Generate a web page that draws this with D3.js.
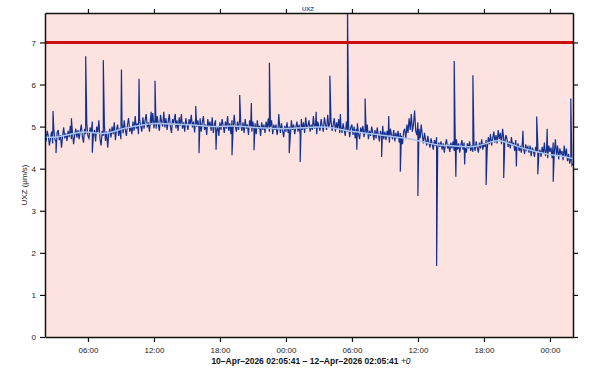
<!DOCTYPE html>
<html lang="en">
<head>
  <meta charset="UTF-8">
  <title>UXZ</title>
  <script src="https://d3js.org/d3.v7.min.js"></script>
  <style>
    body {margin: 0; padding: 0; background: #fff; font-family: "Liberation Sans", Arial, sans-serif;}
    svg {display: block;}
    .tick text {font-size: 8px; fill: #222;}
  </style>
</head>
<body>
  <div id="chart"></div>
  <script>
    // hours since 10-Apr-2026 02:05:41, 10 samples per hour (every 6 min)
    const baseValues = [
      4.82, 4.65, 4.90, 4.78, 4.55, 4.72, 4.88, 4.60, 4.95, 4.70,
      4.62, 4.85, 4.92, 4.68, 4.80, 4.50, 4.78, 4.98, 4.72, 4.84,
      4.66, 4.90, 4.75, 5.02, 4.70, 4.85, 4.58, 4.80, 4.95, 4.74,
      4.92, 4.70, 4.88, 5.05, 4.76, 4.62, 4.95, 4.82, 5.08, 4.78,
      4.72, 4.98, 4.85, 5.12, 4.80, 4.92, 4.65, 5.00, 4.86, 5.15,
      4.70, 4.55, 4.90, 4.78, 5.02, 4.66, 4.88, 4.50, 4.84, 4.95,
      4.74, 5.00, 4.82, 5.10, 4.68, 4.92, 5.05, 4.78, 4.96, 4.70,
      5.08, 4.84, 5.15, 4.92, 4.78, 5.05, 5.20, 4.88, 5.00, 4.82,
      5.12, 4.90, 5.25, 4.95, 5.08, 4.82, 5.18, 5.02, 4.88, 5.22,
      4.95, 5.15, 5.30, 4.98, 5.10, 4.88, 5.22, 5.05, 5.32, 4.96,
      5.18, 4.95, 5.25, 5.05, 4.90, 5.28, 5.10, 5.00, 5.35, 4.98,
      5.20, 4.92, 5.12, 5.30, 5.00, 4.85, 5.18, 5.08, 5.25, 4.96,
      5.15, 4.90, 5.22, 5.02, 5.30, 4.95, 5.10, 4.88, 5.20, 5.05,
      4.92, 5.18, 5.05, 5.28, 4.98, 5.12, 4.86, 5.22, 5.00, 5.15,
      4.95, 5.20, 4.88, 5.10, 5.25, 4.92, 5.05, 4.80, 5.18, 5.00,
      5.12, 4.90, 5.22, 4.85, 5.05, 5.15, 4.88, 5.00, 4.78, 5.10,
      4.92, 5.18, 5.02, 4.85, 5.12, 4.95, 5.25, 4.90, 5.08, 4.82,
      5.15, 4.95, 5.28, 5.00, 4.88, 5.12, 4.92, 5.20, 5.05, 4.90,
      5.10, 4.85, 5.18, 4.95, 5.05, 4.80, 5.15, 5.00, 4.88, 5.12,
      4.90, 5.08, 4.82, 5.15, 4.95, 5.02, 4.78, 5.10, 4.92, 5.05,
      4.85, 5.12, 4.95, 5.20, 4.88, 5.00, 5.15, 4.82, 5.05, 4.92,
      5.05, 4.80, 4.98, 5.12, 4.85, 5.08, 4.90, 4.75, 5.02, 4.88,
      5.10, 4.85, 5.00, 4.78, 5.15, 4.92, 5.05, 4.82, 4.98, 5.12,
      4.88, 5.05, 4.80, 5.18, 4.92, 5.10, 4.85, 5.22, 4.95, 5.02,
      5.15, 4.88, 5.05, 4.92, 5.25, 4.95, 5.08, 4.82, 5.12, 5.00,
      4.90, 5.18, 5.02, 4.88, 5.22, 5.05, 4.92, 5.28, 4.98, 5.10,
      5.15, 4.90, 5.05, 5.20, 4.88, 5.10, 4.95, 5.18, 4.85, 5.02,
      4.85, 5.08, 4.92, 4.78, 5.12, 4.88, 5.02, 4.75, 4.98, 5.05,
      4.80, 5.00, 4.72, 4.95, 5.08, 4.82, 4.70, 4.98, 4.85, 5.02,
      4.75, 4.95, 4.82, 5.05, 4.70, 4.90, 4.78, 5.00, 4.85, 4.68,
      4.92, 4.72, 4.98, 4.80, 4.65, 4.90, 4.78, 5.02, 4.70, 4.88,
      4.68, 4.90, 4.75, 4.62, 4.95, 4.80, 4.70, 4.92, 4.65, 4.85,
      4.72, 4.90, 4.62, 4.85, 4.78, 4.58, 4.88, 4.95, 4.70, 5.05,
      4.85, 5.20, 4.92, 5.30, 4.88, 5.05, 5.38, 4.90, 4.80, 5.10,
      4.95, 4.72, 5.05, 4.80, 4.60, 4.85, 4.68, 4.55, 4.78, 4.62,
      4.50, 4.72, 4.58, 4.45, 4.68, 4.55, 4.75, 4.48, 4.62, 4.52,
      4.65, 4.45, 4.60, 4.38, 4.58, 4.70, 4.48, 4.55, 4.40, 4.62,
      4.48, 4.65, 4.42, 4.58, 4.70, 4.45, 4.60, 4.38, 4.55, 4.68,
      4.45, 4.62, 4.50, 4.38, 4.60, 4.48, 4.65, 4.42, 4.55, 4.40,
      4.58, 4.42, 4.65, 4.50, 4.38, 4.62, 4.48, 4.70, 4.45, 4.60,
      4.52, 4.68, 4.45, 4.75, 4.58, 4.82, 4.55, 4.72, 4.88, 4.62,
      4.80, 4.60, 4.92, 4.70, 4.85, 4.58, 4.95, 4.72, 4.62, 4.80,
      4.70, 4.52, 4.65, 4.48, 4.75, 4.55, 4.62, 4.42, 4.68, 4.50,
      4.60, 4.42, 4.55, 4.38, 4.62, 4.48, 4.35, 4.58, 4.45, 4.52,
      4.38, 4.55, 4.30, 4.50, 4.42, 4.28, 4.52, 4.40, 4.58, 4.35,
      4.45, 4.28, 4.52, 4.35, 4.62, 4.30, 4.48, 4.25, 4.55, 4.40,
      4.50, 4.25, 4.62, 4.38, 4.70, 4.30, 4.55, 4.22, 4.48, 4.35,
      4.42, 4.20, 4.55, 4.28, 4.48, 4.18, 4.35, 4.12, 4.25, 4.08,
      4.12
    ];
    // isolated spikes: [hours, value]
    const spikes = [
      [0.73, 5.37], [1.0, 4.37], [2.4, 5.2], [3.7, 6.67], [4.3, 4.38],
      [5.3, 6.58], [6.95, 6.36], [8.55, 6.14], [9.65, 5.35], [10.0, 6.09],
      [11.85, 5.3], [13.7, 5.49], [14.0, 4.37], [15.55, 4.45], [17.0, 4.32],
      [17.7, 5.75], [18.76, 5.56], [19.0, 4.44], [20.4, 6.52], [21.25, 5.3],
      [22.2, 4.37], [23.2, 4.16], [24.65, 5.35], [25.9, 6.21], [26.85, 5.3],
      [27.5, 7.9], [28.35, 4.45], [29.1, 5.67], [30.6, 4.28], [31.25, 5.25],
      [32.3, 3.93], [33.9, 3.35], [35.6, 1.69], [37.2, 6.56], [37.35, 3.81],
      [38.15, 4.1], [38.9, 6.22], [40.1, 3.61], [41.7, 3.78], [42.85, 4.05],
      [43.45, 4.9], [44.7, 5.24], [44.8, 3.87], [45.65, 4.95], [46.2, 3.69],
      [47.8, 5.67]
    ];
    // hourly running mean
    const smoothValues = [
      4.75, 4.74, 4.80, 4.86, 4.88, 4.82, 4.86, 4.95, 5.00, 5.05,
      5.08, 5.07, 5.05, 5.05, 5.03, 5.00, 5.00, 5.02, 5.00, 4.98,
      4.97, 4.95, 4.95, 4.97, 4.98, 5.00, 4.98, 4.92, 4.88, 4.85,
      4.82, 4.78, 4.75, 4.72, 4.66, 4.60, 4.55, 4.55, 4.52, 4.52,
      4.58, 4.70, 4.62, 4.52, 4.45, 4.38, 4.33, 4.30, 4.24
    ];
    const xTickTimes = [
      "2026-04-10T06:00:00Z", "2026-04-10T12:00:00Z", "2026-04-10T18:00:00Z",
      "2026-04-11T00:00:00Z", "2026-04-11T06:00:00Z", "2026-04-11T12:00:00Z",
      "2026-04-11T18:00:00Z", "2026-04-12T00:00:00Z"
    ];
    const yTicks = [0, 1, 2, 3, 4, 5, 6, 7];
    const threshold = 7;

    const start = new Date(Date.UTC(2026, 3, 10, 2, 5, 41));
    const end = new Date(Date.UTC(2026, 3, 12, 2, 5, 41));
    const hourMs = 3600000;
    const toDate = h => new Date(start.getTime() + h * hourMs);

    const raw = baseValues.map((v, i) => ({t: toDate(i / 10), v}))
      .concat(spikes.map(s => ({t: toDate(s[0]), v: s[1]})))
      .sort((a, b) => a.t - b.t);
    const smooth = smoothValues.map((v, i) => ({t: toDate(i), v}));

    const W = 600, H = 375;
    const margin = {top: 13, right: 27, bottom: 38, left: 45};
    const iw = W - margin.left - margin.right;
    const ih = H - margin.top - margin.bottom;

    const svg = d3.select("#chart").append("svg")
      .attr("width", W).attr("height", H);
    const g = svg.append("g").attr("transform", `translate(${margin.left},${margin.top})`);

    const x = d3.scaleUtc().domain([start, end]).range([0, iw]);
    const y = d3.scaleLinear().domain([0, 7.7]).range([ih, 0]);

    g.append("rect").attr("width", iw).attr("height", ih).attr("fill", "#fde3df");

    svg.append("defs").append("clipPath").attr("id", "clip")
      .append("rect").attr("width", iw).attr("height", ih);

    const plot = g.append("g").attr("clip-path", "url(#clip)");
    const line = d3.line().x(d => x(d.t)).y(d => y(d.v));

    plot.append("path").datum(raw)
      .attr("fill", "none").attr("stroke", "#14308f").attr("stroke-width", 1.2)
      .attr("d", line);
    plot.append("path").datum(smooth)
      .attr("fill", "none").attr("stroke", "#a9c4ee").attr("stroke-width", 1.5)
      .attr("d", line.curve(d3.curveBasis));

    plot.append("line")
      .attr("x1", 0).attr("x2", iw)
      .attr("y1", y(threshold)).attr("y2", y(threshold))
      .attr("stroke", "#cc1010").attr("stroke-width", 3);

    const xTicks = xTickTimes.map(s => new Date(s));
    const fmt = d3.utcFormat("%H:%M");

    const styleAxis = sel => {
      sel.select(".domain").attr("stroke", "#111").attr("stroke-width", 1.5);
      sel.selectAll(".tick line").attr("stroke", "#111").attr("stroke-width", 1.2);
    };

    g.append("g").attr("transform", `translate(0,${ih})`)
      .call(d3.axisBottom(x).tickValues(xTicks).tickFormat(fmt).tickSize(5).tickSizeOuter(0).tickPadding(5))
      .call(styleAxis);
    g.append("g")
      .call(d3.axisTop(x).tickValues(xTicks).tickFormat("").tickSize(4).tickSizeOuter(0))
      .call(styleAxis);
    g.append("g")
      .call(d3.axisLeft(y).tickValues(yTicks).tickFormat(d3.format("d")).tickSize(5).tickSizeOuter(0).tickPadding(4))
      .call(styleAxis);
    g.append("g").attr("transform", `translate(${iw},0)`)
      .call(d3.axisRight(y).tickValues(yTicks).tickFormat("").tickSize(5).tickSizeOuter(0))
      .call(styleAxis);

    svg.append("text")
      .attr("x", 308).attr("y", 11)
      .attr("text-anchor", "middle")
      .attr("font-size", 6).attr("font-weight", "bold").attr("fill", "#2a56b8")
      .text("UXZ");

    svg.append("text")
      .attr("transform", `translate(27,${margin.top + ih / 2 + 10}) rotate(-90)`)
      .attr("text-anchor", "middle")
      .attr("font-size", 8).attr("fill", "#222")
      .text("UXZ (μm/s)");

    const label = svg.append("text")
      .attr("x", 311).attr("y", 364)
      .attr("text-anchor", "middle")
      .attr("font-size", 8.5).attr("fill", "#111");
    label.append("tspan").attr("font-weight", "bold")
      .text("10–Apr–2026 02:05:41 – 12–Apr–2026 02:05:41 ");
    label.append("tspan").attr("font-style", "italic")
      .text("+0");
  </script>
</body>
</html>
